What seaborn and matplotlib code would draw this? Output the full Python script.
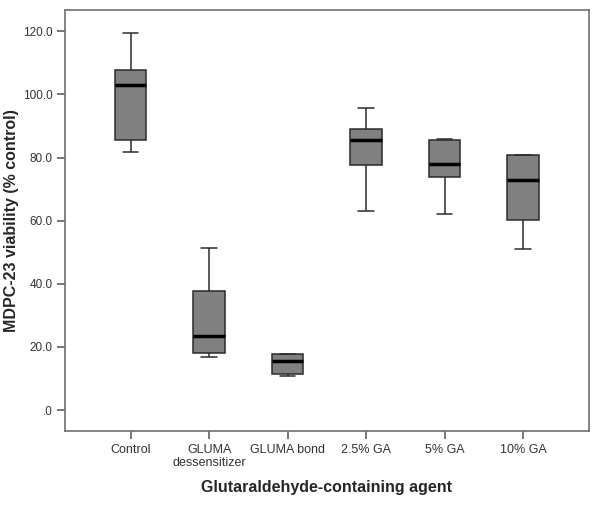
import matplotlib
matplotlib.use("Agg")
import matplotlib.pyplot as plt
import numpy as np
import pandas as pd
import seaborn as sns

# five-number summaries: min, Q1, median, Q3, max
agents = ["Control", "GLUMA\ndessensitizer", "GLUMA bond", "2.5% GA", "5% GA", "10% GA"]
control = [81.6, 85.4, 102.9, 107.7, 119.6]
gluma_dess = [16.9, 18.2, 23.4, 37.6, 51.2]
gluma_bond = [10.8, 11.4, 15.5, 17.7, 17.9]
ga_2_5 = [63.0, 77.5, 85.6, 88.9, 95.8]
ga_5 = [62.0, 73.9, 78.0, 85.5, 85.8]
ga_10 = [51.0, 60.2, 72.9, 80.8, 80.8]
yticks = [0, 20, 40, 60, 80, 100, 120]
ytick_labels = [".0", "20.0", "40.0", "60.0", "80.0", "100.0", "120.0"]

series = [control, gluma_dess, gluma_bond, ga_2_5, ga_5, ga_10]
df = pd.DataFrame(
    [(a, v) for a, vals in zip(agents, series) for v in vals],
    columns=["agent", "viability"],
)

sns.set_style("white")
plt.rcParams["font.family"] = ["Liberation Sans", "DejaVu Sans"]

fig = plt.figure(figsize=(6.02, 5.05), dpi=100)
ax = fig.add_axes([0.108, 0.1465, 0.870, 0.8335])

sns.boxplot(
    data=df, x="agent", y="viability", order=agents, ax=ax,
    color="#808080", linecolor="#2b2b2b", linewidth=1.1, width=0.4,
    whis=np.inf, saturation=1,
    medianprops={"color": "black", "linewidth": 2.5},
)

ax.set_xlim(-0.836, 5.836)
ax.set_ylim(-6.65, 126.7)
ax.set_yticks(yticks)
ax.set_yticklabels(ytick_labels, fontsize=8.5, color="#333333")
ax.tick_params(axis="x", labelsize=9, labelcolor="#333333")
ax.tick_params(axis="both", direction="out", length=6, width=1.2,
               color="#606060", pad=3, bottom=True, left=True)
for s in ax.spines.values():
    s.set_color("#707070")
    s.set_linewidth(1.2)

ax.set_xlabel("Glutaraldehyde-containing agent", fontsize=11.5,
              fontweight="bold", labelpad=8)
ax.set_ylabel("MDPC-23 viability (% control)", fontsize=11.5,
              fontweight="bold", labelpad=3)

fig.savefig("out.png", dpi=100)
